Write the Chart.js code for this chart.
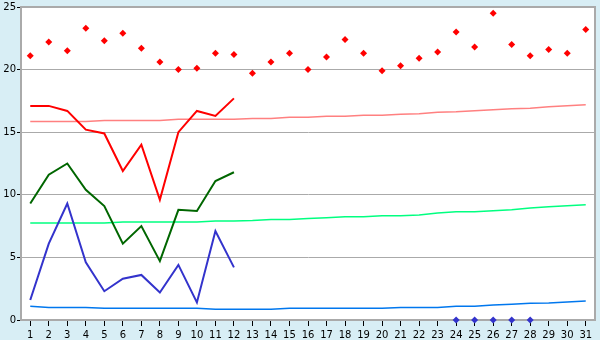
<!DOCTYPE html>
<html>
<head>
<meta charset="utf-8">
<script src="https://cdn.jsdelivr.net/npm/chart.js@4/dist/chart.umd.min.js"></script>
<style>
    body { margin: 0; background: #d8eef5; }
    canvas { display: block; }
</style>
</head>
<body>
<canvas id="chart" width="600" height="340"></canvas>
<script>
var days = ["1", "2", "3", "4", "5", "6", "7", "8", "9", "10", "11", "12", "13", "14", "15", "16",
    "17", "18", "19", "20", "21", "22", "23", "24", "25", "26", "27", "28", "29", "30", "31"];
var yTicks = [0, 5, 10, 15, 20, 25];

// daily points (red markers)
var dailyPoints = [21.1, 22.2, 21.5, 23.3, 22.3, 22.9, 21.7, 20.6, 20.0, 20.1, 21.3, 21.2, 19.7, 20.6, 21.3, 20.0,
    21.0, 22.4, 21.3, 19.9, 20.3, 20.9, 21.4, 23.0, 21.8, 24.5, 22.0, 21.1, 21.6, 21.3, 23.2];

// measured lines, first 12 days only
var redLine = [17.1, 17.1, 16.7, 15.2, 14.9, 11.9, 14.0, 9.6, 15.0, 16.7, 16.3, 17.7];
var greenLine = [9.3, 11.6, 12.5, 10.4, 9.1, 6.1, 7.5, 4.7, 8.8, 8.7, 11.1, 11.8];
var blueLine = [1.6, 6.1, 9.3, 4.6, 2.3, 3.3, 3.6, 2.2, 4.4, 1.4, 7.1, 4.2];

// thin reference lines
var pinkRef = [15.85, 15.85, 15.85, 15.85, 15.93, 15.93, 15.93, 15.93, 16.03, 16.03, 16.03, 16.03, 16.1, 16.1, 16.19, 16.19,
    16.27, 16.27, 16.35, 16.35, 16.43, 16.48, 16.6, 16.64, 16.72, 16.8, 16.88, 16.92, 17.04, 17.12, 17.2];
var greenRef = [7.75, 7.75, 7.75, 7.75, 7.75, 7.83, 7.83, 7.83, 7.83, 7.83, 7.91, 7.91, 7.94, 8.02, 8.02, 8.1,
    8.17, 8.25, 8.25, 8.33, 8.33, 8.39, 8.55, 8.65, 8.65, 8.73, 8.81, 8.95, 9.05, 9.13, 9.21];
var blueRef = [1.09, 1.0, 1.0, 1.0, 0.93, 0.93, 0.93, 0.93, 0.93, 0.93, 0.85, 0.85, 0.85, 0.85, 0.93, 0.93,
    0.93, 0.93, 0.93, 0.93, 1.0, 1.0, 1.0, 1.09, 1.09, 1.2, 1.25, 1.33, 1.35, 1.43, 1.51];

// small blue marks sitting on the axis
var axisMarks = [null, null, null, null, null, null, null, null, null, null, null, null, null, null, null, null,
    null, null, null, null, null, null, null, 0, 0, 0, 0, 0, null, null, null];

var fontSpec = {family: "'DejaVu Sans', Verdana, sans-serif", size: 10};

function lineSet(values, color, width) {
    return {data: values, borderColor: color, borderWidth: width, pointRadius: 0, fill: false, tension: 0};
}

function markSet(values, color) {
    return {data: values, showLine: false, pointStyle: "rectRot", pointRadius: 3.5,
        pointBackgroundColor: color, pointBorderWidth: 0, borderColor: color, clip: false};
}

var backdrop = {
    id: "backdrop",
    beforeDraw: function(chart) {
        var ctx = chart.ctx, a = chart.chartArea;
        ctx.save();
        ctx.fillStyle = "#d8eef5";
        ctx.fillRect(0, 0, chart.width, chart.height);
        ctx.fillStyle = "#ffffff";
        ctx.fillRect(a.left, a.top, a.right - a.left, a.bottom - a.top);
        ctx.restore();
    },
    beforeDatasetsDraw: function(chart) {
        var ctx = chart.ctx, a = chart.chartArea;
        ctx.save();
        ctx.strokeStyle = "#aaaaaa";
        ctx.lineWidth = 2;
        ctx.beginPath();
        ctx.moveTo(a.left, a.top);
        ctx.lineTo(a.right, a.top);
        ctx.lineTo(a.right, a.bottom);
        ctx.stroke();
        ctx.restore();
    }
};

new Chart(document.getElementById("chart"), {
    type: "line",
    data: {
        labels: days,
        datasets: [
            markSet(dailyPoints, "#ff0000"),
            markSet(axisMarks, "#3333cc"),
            lineSet(redLine, "#ff0000", 2),
            lineSet(greenLine, "#006600", 2),
            lineSet(blueLine, "#3333cc", 2),
            lineSet(pinkRef, "#ff8080", 1.5),
            lineSet(greenRef, "#00ff80", 1.5),
            lineSet(blueRef, "#0077ee", 1.5)
        ]
    },
    options: {
        responsive: false,
        animation: false,
        layout: {padding: {top: 5, right: 5, left: 0, bottom: 0}},
        plugins: {legend: {display: false}, tooltip: {enabled: false}},
        scales: {
            x: {
                offset: true,
                grid: {drawOnChartArea: false, offset: false, tickLength: 6, tickColor: "#000000"},
                border: {color: "#aaaaaa", width: 2},
                ticks: {font: fontSpec, color: "#000000", padding: 3, maxRotation: 0, autoSkip: false},
                afterFit: function(scale) { scale.height = 20; }
            },
            y: {
                min: 0,
                max: 25,
                afterBuildTicks: function(scale) {
                    scale.ticks = yTicks.map(function(v) { return {value: v}; });
                },
                grid: {color: "#aaaaaa", lineWidth: 1, tickLength: 4, tickColor: "#000000"},
                border: {color: "#aaaaaa", width: 2},
                ticks: {font: fontSpec, color: "#000000", padding: 1},
                afterFit: function(scale) { scale.width = 21; }
            }
        }
    },
    plugins: [backdrop]
});
</script>
</body>
</html>
